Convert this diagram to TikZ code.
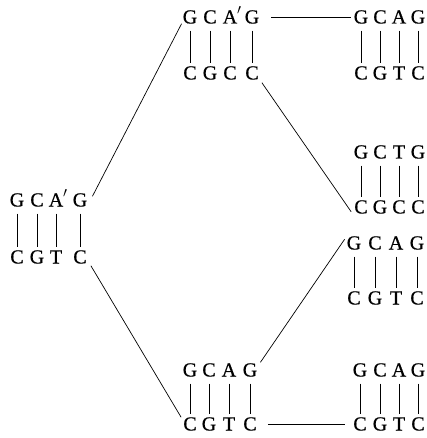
\documentclass[tikz,border=0pt]{standalone}
\usepackage{fontspec}
\newfontfamily\basefont{Liberation Serif}[FakeBold=0.6]
\newcommand\nick{\rlap{\raisebox{1pt}{$^{\prime}$}}}
\begin{document}
\begin{tikzpicture}[x=1pt,y=-1pt,
  nt/.style={inner sep=0pt, text height=13pt, text depth=0pt,
             font=\basefont\fontsize{20}{20}\selectfont},
  bond/.style={line width=0.7pt, shorten <=7pt, shorten >=3pt},
  link/.style={line width=0.7pt}]
\useasboundingbox (0,0) rectangle (427,438);

% left duplex
\node[nt] (l1) at (17,200) {G};
\node[nt] (l2) at (37,200) {C};
\node[nt] (l3) at (56,200) {A\nick};
\node[nt] (l4) at (80,200) {G};
\node[nt] (l5) at (17,257) {C};
\node[nt] (l6) at (37,257) {G};
\node[nt] (l7) at (56,257) {T};
\node[nt] (l8) at (80,257) {C};

% top middle duplex
\node[nt] (t1) at (190,17) {G};
\node[nt] (t2) at (210,17) {C};
\node[nt] (t3) at (230,17) {A\nick};
\node[nt] (t4) at (252,17) {G};
\node[nt] (t5) at (190,73) {C};
\node[nt] (t6) at (210,73) {G};
\node[nt] (t7) at (230,73) {C};
\node[nt] (t8) at (252,73) {C};

% top right duplex
\node[nt] (r1) at (361,17) {G};
\node[nt] (r2) at (380,17) {C};
\node[nt] (r3) at (399,17) {A};
\node[nt] (r4) at (418,17) {G};
\node[nt] (r5) at (361,73) {C};
\node[nt] (r6) at (380,73) {G};
\node[nt] (r7) at (399,73) {T};
\node[nt] (r8) at (418,73) {C};

% mismatch-repaired duplex
\node[nt] (s1) at (361,152) {G};
\node[nt] (s2) at (380,152) {C};
\node[nt] (s3) at (399,152) {T};
\node[nt] (s4) at (418,152) {G};
\node[nt] (s5) at (361,207) {C};
\node[nt] (s6) at (380,207) {G};
\node[nt] (s7) at (399,207) {C};
\node[nt] (s8) at (418,207) {C};

% third right duplex
\node[nt] (q1) at (354,243) {G};
\node[nt] (q2) at (375,243) {C};
\node[nt] (q3) at (396,243) {A};
\node[nt] (q4) at (417,243) {G};
\node[nt] (q5) at (354,298) {C};
\node[nt] (q6) at (375,298) {G};
\node[nt] (q7) at (396,298) {T};
\node[nt] (q8) at (417,298) {C};

% bottom middle duplex
\node[nt] (b1) at (190,370) {G};
\node[nt] (b2) at (209,370) {C};
\node[nt] (b3) at (229,370) {A};
\node[nt] (b4) at (250,370) {G};
\node[nt] (b5) at (190,424) {C};
\node[nt] (b6) at (209,424) {G};
\node[nt] (b7) at (229,424) {T};
\node[nt] (b8) at (250,424) {C};

% bottom right duplex
\node[nt] (e1) at (360,370) {G};
\node[nt] (e2) at (380,370) {C};
\node[nt] (e3) at (399,370) {A};
\node[nt] (e4) at (418,370) {G};
\node[nt] (e5) at (360,424) {C};
\node[nt] (e6) at (380,424) {G};
\node[nt] (e7) at (399,424) {T};
\node[nt] (e8) at (418,424) {C};

% base-pair bonds
\foreach \d in {l,t,r,s,q,b,e}
  \foreach \i/\j in {1/5,2/6,3/7,4/8}
    \draw[bond] (\d\i) -- (\d\j);

% lineage connectors
\draw[link] ([shift={(5,3)}]l4.north east) -- ([xshift=-1pt]t1.south west);
\draw[link] ([shift={(4,2)}]l8.south east) -- ([xshift=-2pt]b5.north west);
\draw[link] ([xshift=12pt]t4.east) -- ([xshift=-3pt]r1.west);
\draw[link] ([shift={(3,3)}]t8.south east) -- ([shift={(-3,-2)}]s5.south west);
\draw[link] ([shift={(3,-1)}]b4.north east) -- ([shift={(-2,3)}]q1.north west);
\draw[link] ([xshift=11pt]b8.east) -- ([xshift=-8pt]e5.west);
\end{tikzpicture}
\end{document}
